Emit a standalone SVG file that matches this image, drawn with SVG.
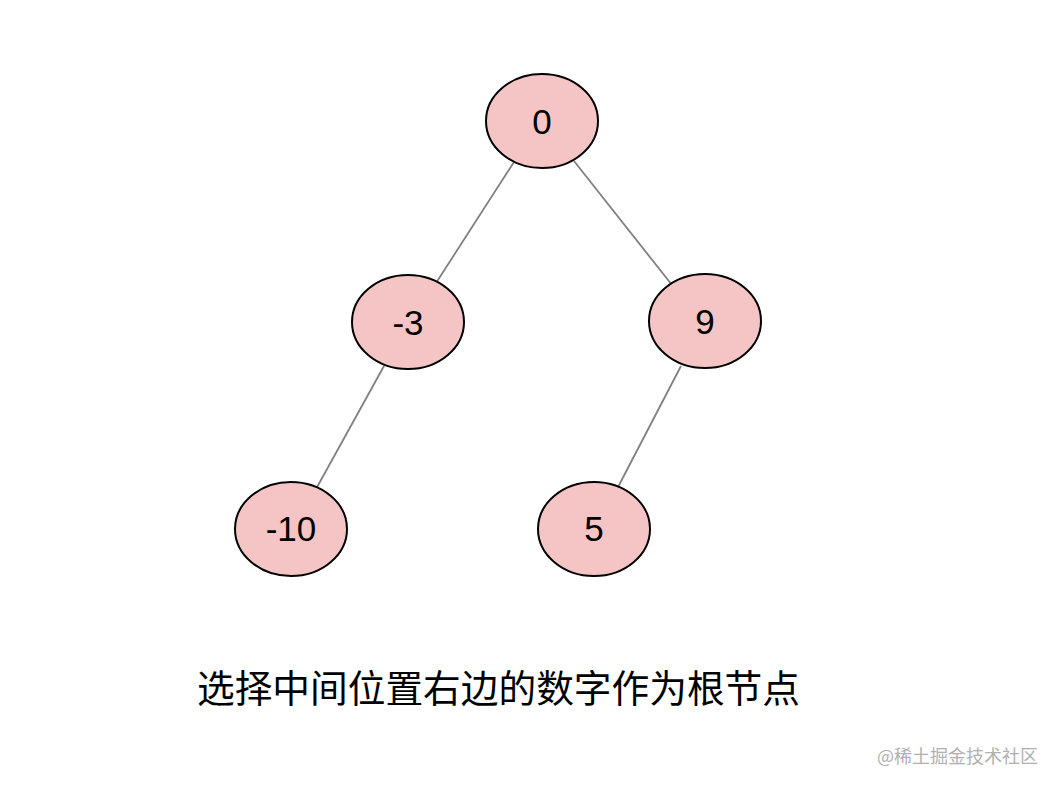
<svg xmlns="http://www.w3.org/2000/svg" width="1060" height="788" viewBox="0 0 1060 788">
<style>
.n ellipse{fill:#f5c4c4;stroke:#000;stroke-width:2}
.n text{font-family:"Liberation Sans",Arial,sans-serif;font-size:35px;fill:#000;text-anchor:middle;dominant-baseline:central}
.e line{stroke:#808080;stroke-width:1.8}
.cap{font-family:"Noto Sans CJK SC",sans-serif;font-size:38px;fill:#000}
.wm{font-family:"Noto Sans CJK SC",sans-serif;font-size:18px;fill:#b0b0b0}
</style>
<rect width="1060" height="788" fill="#fff"/>
<g id="connectors" class="e">
<line x1="514" y1="162" x2="436" y2="283"/>
<line x1="574" y1="161" x2="672" y2="285"/>
<line x1="384" y1="366" x2="316" y2="489"/>
<line x1="681" y1="366" x2="617" y2="489"/>
</g>
<g id="node0" class="n"><ellipse cx="542" cy="121" rx="56" ry="47"/><text x="542" y="121">0</text></g>
<g id="node-3" class="n"><ellipse cx="408" cy="322" rx="56" ry="47"/><text x="408" y="322">-3</text></g>
<g id="node9" class="n"><ellipse cx="705" cy="321" rx="56" ry="47"/><text x="705" y="321">9</text></g>
<g id="node-10" class="n"><ellipse cx="291" cy="529" rx="56" ry="47"/><text x="291" y="528">-10</text></g>
<g id="node5" class="n"><ellipse cx="594" cy="529" rx="56" ry="47"/><text x="594" y="528">5</text></g>
<text class="cap" x="197" y="702" textLength="603" lengthAdjust="spacingAndGlyphs">选择中间位置右边的数字作为根节点</text>
<text class="wm" x="877" y="763">@稀土掘金技术社区</text>
</svg>
